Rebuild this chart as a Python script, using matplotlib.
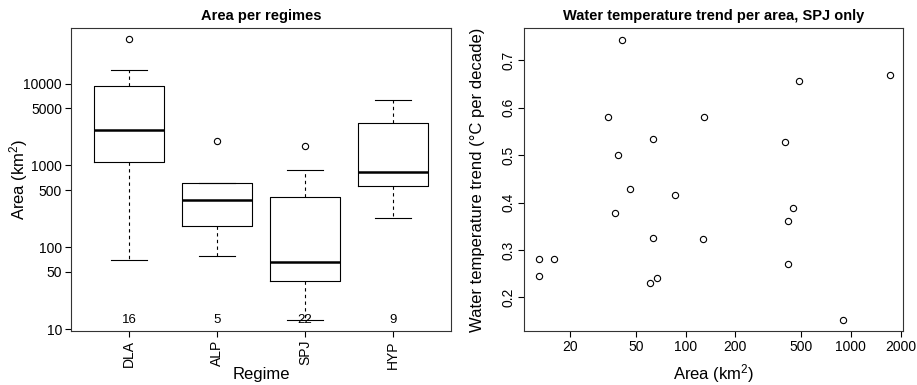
import matplotlib
matplotlib.use("Agg")
import matplotlib.pyplot as plt
import matplotlib.transforms as mtransforms
from matplotlib.ticker import NullLocator, FixedLocator, FixedFormatter

plt.rcParams['font.family'] = ['Liberation Sans', 'DejaVu Sans']
plt.rcParams['mathtext.fontset'] = 'custom'
plt.rcParams['mathtext.rm'] = 'Liberation Sans'
plt.rcParams['mathtext.it'] = 'Liberation Sans:italic'

# Left panel: box statistics per regime (km2)
regimes = ['DLA', 'ALP', 'SPJ', 'HYP']
counts = [16, 5, 22, 9]
q1 = [1088, 180, 39.2, 554]
medians = [2720, 380, 65.6, 828]
q3 = [9300, 614, 410, 3310]
whis_lo = [70, 78, 13.1, 228]
whis_hi = [14700, 614, 884, 6380]
outliers = [[34700], [1980], [1710], []]

# Right panel: SPJ catchments
spj_area = [41.1, 1715, 482, 34.0, 130, 64.0, 400, 38.8, 45.9, 86.1, 444,
            37.3, 417, 63.7, 127, 13.0, 16.0, 419, 13.0, 67.3, 60.7, 893]
spj_trend = [0.7435, 0.669, 0.656, 0.580, 0.581, 0.534, 0.528, 0.501, 0.428,
             0.415, 0.389, 0.378, 0.361, 0.326, 0.323, 0.280, 0.280, 0.270,
             0.2445, 0.240, 0.230, 0.153]

left_yticks = [10, 50, 100, 500, 1000, 5000, 10000]
right_xticks = [20, 50, 100, 200, 500, 1000, 2000]
right_yticks = [0.2, 0.3, 0.4, 0.5, 0.6, 0.7]

fig = plt.figure(figsize=(9.17, 3.85), dpi=100)
ax1 = fig.add_axes([0.0774, 0.1403, 0.4144, 0.787])
ax2 = fig.add_axes([0.5718, 0.1403, 0.4126, 0.786])

# ---- boxplot
stats = []
for i in range(len(regimes)):
    stats.append({'med': medians[i], 'q1': q1[i], 'q3': q3[i],
                  'whislo': whis_lo[i], 'whishi': whis_hi[i],
                  'fliers': outliers[i], 'label': regimes[i]})
positions = list(range(1, len(regimes) + 1))
ax1.bxp(stats, positions=positions, widths=0.8, showfliers=True,
        boxprops=dict(color='black', lw=0.8),
        medianprops=dict(color='black', lw=1.8, solid_capstyle='butt'),
        whiskerprops=dict(color='black', lw=0.8, linestyle=(0, (3, 3))),
        capprops=dict(color='black', lw=0.8),
        flierprops=dict(marker='o', markerfacecolor='none',
                        markeredgecolor='black', markersize=4.5, markeredgewidth=0.8),
        capwidths=0.4)
ax1.set_yscale('log')
ax1.set_ylim(9.5, 47700)
ax1.set_xlim(0.34, 4.66)
ax1.yaxis.set_major_locator(FixedLocator(left_yticks))
ax1.yaxis.set_major_formatter(FixedFormatter([str(v) for v in left_yticks]))
ax1.yaxis.set_minor_locator(NullLocator())
ax1.set_xticks(positions)
ax1.set_xticklabels(regimes, rotation=90)
trans = mtransforms.blended_transform_factory(ax1.transData, ax1.transAxes)
for p, n in zip(positions, counts):
    ax1.text(p, 0.036, str(n), transform=trans, ha='center', va='center', fontsize=9.5)
ax1.set_title('Area per regimes', fontsize=10.5, fontweight='bold', pad=6)
ax1.set_ylabel('Area (km$^2$)', fontsize=12)
ax1.yaxis.set_label_coords(-0.108, 0.5)
ax1.set_xlabel('Regime', fontsize=12)
ax1.xaxis.set_label_coords(0.5, -0.12)

# ---- scatter
ax2.plot(spj_area, spj_trend, linestyle='none', marker='o', markerfacecolor='none',
         markeredgecolor='black', markersize=4.5, markeredgewidth=0.8)
ax2.set_xscale('log')
ax2.set_xlim(10.6, 2056)
ax2.set_ylim(0.129, 0.7675)
ax2.xaxis.set_major_locator(FixedLocator(right_xticks))
ax2.xaxis.set_major_formatter(FixedFormatter([str(v) for v in right_xticks]))
ax2.xaxis.set_minor_locator(NullLocator())
ax2.set_yticks(right_yticks)
ax2.set_yticklabels([str(v) for v in right_yticks], rotation=90, va='center')
ax2.set_title('Water temperature trend per area, SPJ only', fontsize=10.5,
              fontweight='bold', pad=6)
ax2.set_xlabel('Area (km$^2$)', fontsize=12)
ax2.xaxis.set_label_coords(0.5, -0.103)
ax2.set_ylabel('Water temperature trend (\u00b0C per decade)', fontsize=12)
ax2.yaxis.set_label_coords(-0.104, 0.5)

for ax in (ax1, ax2):
    for s in ax.spines.values():
        s.set_linewidth(0.8)
        s.set_color('#333333')
    ax.tick_params(axis='both', which='major', length=4.5, width=0.8,
                   labelsize=10, pad=2, direction='out')

fig.savefig('out.png', dpi=100)
